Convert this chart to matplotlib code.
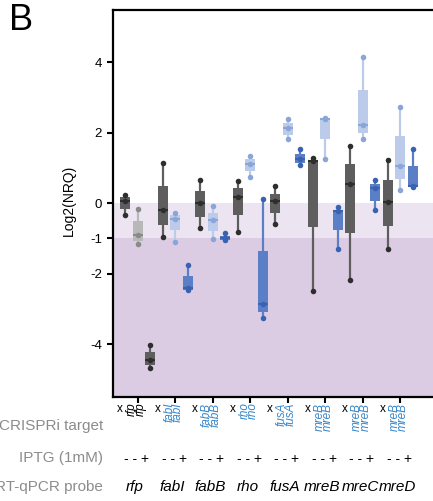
import matplotlib
matplotlib.use("Agg")
import matplotlib.pyplot as plt

plt.rcParams['font.family'] = ['Liberation Sans', 'DejaVu Sans']

# probe genes (one group of three boxes each)
probes = ['rfp', 'fabI', 'fabB', 'rho', 'fusA', 'mreB', 'mreC', 'mreD']
targets = ['rfp', 'fabI', 'fabB', 'rho', 'fusA', 'mreB', 'mreB', 'mreB']
iptg = ['- - +'] * 8

# box stats per box: control, target -IPTG, target +IPTG for each probe
whislo = [-0.32, -1.16, -4.69, -0.97, -1.10, -2.47, -0.70, -1.02, -1.05, -0.83, 0.75, -3.25,
          -0.58, 1.81, 1.08, -2.49, 1.27, -1.29, -2.18, 1.83, -0.19, -1.30, 0.39, 0.46]
q1 = [-0.15, -1.07, -4.60, -0.61, -0.77, -2.45, -0.38, -0.79, -1.04, -0.34, 0.92, -3.08,
      -0.29, 1.95, 1.15, -0.67, 1.82, -0.77, -0.84, 2.00, 0.07, -0.65, 0.70, 0.47]
med = [0.07, -0.90, -4.45, -0.20, -0.45, -2.40, 0.01, -0.48, -0.98, 0.18, 1.11, -2.87,
       0.06, 2.14, 1.27, 1.20, 2.40, -0.23, 0.56, 2.23, 0.42, 0.04, 1.06, 0.50]
q3 = [0.18, -0.50, -4.22, 0.49, -0.34, -2.07, 0.34, -0.27, -0.92, 0.42, 1.25, -1.35,
      0.27, 2.28, 1.39, 1.24, 2.41, -0.18, 1.11, 3.21, 0.54, 0.65, 1.90, 1.06]
whishi = [0.23, -0.15, -4.01, 1.15, -0.29, -1.74, 0.65, -0.09, -0.85, 0.62, 1.33, 0.11,
          0.49, 2.38, 1.55, 1.28, 2.42, -0.10, 1.62, 4.15, 0.65, 1.24, 2.73, 1.55]

# fill / median colours
dark = ('#5e5e5e', '#2e2e2e')
lgray = ('#b8b8b8', '#8a8a8a')
lblue = ('#bccbe9', '#8aa5da')
mblue = ('#5b7fc6', '#3a62b2')
box_cols = [dark, lgray, dark] + [dark, lblue, mblue] * 7

stats = []
for i in range(len(med)):
    stats.append(dict(whislo=whislo[i], q1=q1[i], med=med[i], q3=q3[i], whishi=whishi[i]))
positions = list(range(len(med)))

fig = plt.figure(figsize=(4.33, 5.01), dpi=100)
ax = fig.add_axes([112.5 / 433, 104 / 501, 325 / 433, 387.5 / 501])

ax.axhspan(-1, 0, color='#ece5f1', zorder=0, lw=0)
ax.axhspan(-6, -1, color='#dccce3', zorder=0, lw=0)

bp = ax.bxp(stats, positions=positions, widths=0.8, patch_artist=True, showfliers=False,
            showcaps=False)
for i, (fc, mc) in enumerate(box_cols):
    bp['boxes'][i].set(facecolor=fc, edgecolor=fc, linewidth=0)
    bp['medians'][i].set(color=mc, linewidth=1.5)
    for w in bp['whiskers'][2 * i:2 * i + 2]:
        w.set(color=fc, linewidth=1.6)
    ax.plot([i, i, i], [whislo[i], med[i], whishi[i]], 'o', ms=4, color=mc,
            markeredgewidth=0, zorder=3)

ax.set_xlim(-1, 25)
ax.set_ylim(-5.5, 5.5)
ax.set_yticks([4, 2, 0, -1, -2, -4])
ax.set_yticklabels(['4', '2', '0', '-1', '-2', '-4'], fontsize=9.5)
ax.set_xticks([3 * g + 1 for g in range(len(probes))])
ax.set_xticklabels([])
ax.tick_params(width=1.5, length=4, color='black')
for s in ax.spines.values():
    s.set_linewidth(1.6)

tr = ax.get_xaxis_transform()
for g in range(len(probes)):
    p0 = 3 * g
    col = 'black' if targets[g] == 'rfp' else '#3786c8'
    ax.annotate('x', xy=(p0 - 0.4, 0), xycoords=tr, xytext=(0, -4), textcoords='offset points',
                ha='center', va='top', fontsize=8.5, color='black', annotation_clip=False)
    # the two rotated target names sit as one two-line block
    ax.annotate(targets[g] + '\n' + targets[g], xy=(p0 + 0.9, 0), xycoords=tr, xytext=(0, -4),
                textcoords='offset points', ha='center', va='top', rotation=90,
                fontsize=8.5, style='italic', color=col, linespacing=0.62,
                annotation_clip=False)
    fig.text((125 + 12.5 * (p0 + 0.95)) / 433, 1 - 459 / 501, iptg[g], ha='center',
             va='center', fontsize=10)
    fig.text((125 + 12.5 * (p0 + 0.8)) / 433, 1 - 487 / 501, probes[g], ha='center',
             va='center', fontsize=11, style='italic')

gray = '#8c8c8c'
fig.text(103 / 433, 1 - 426 / 501, 'CRISPRi target', ha='right', va='center', fontsize=11,
         color=gray)
fig.text(103 / 433, 1 - 458 / 501, 'IPTG (1mM)', ha='right', va='center', fontsize=11,
         color=gray)
fig.text(103 / 433, 1 - 487 / 501, 'RT-qPCR probe', ha='right', va='center', fontsize=11,
         color=gray)

fig.text(69 / 433, 1 - 200 / 501, 'Log2(NRQ)', rotation=90, ha='center', va='center',
         fontsize=10)
fig.text(9 / 433, 1 - 21 / 501, 'B', ha='left', va='center', fontsize=26)

fig.savefig('out.png', dpi=100)
